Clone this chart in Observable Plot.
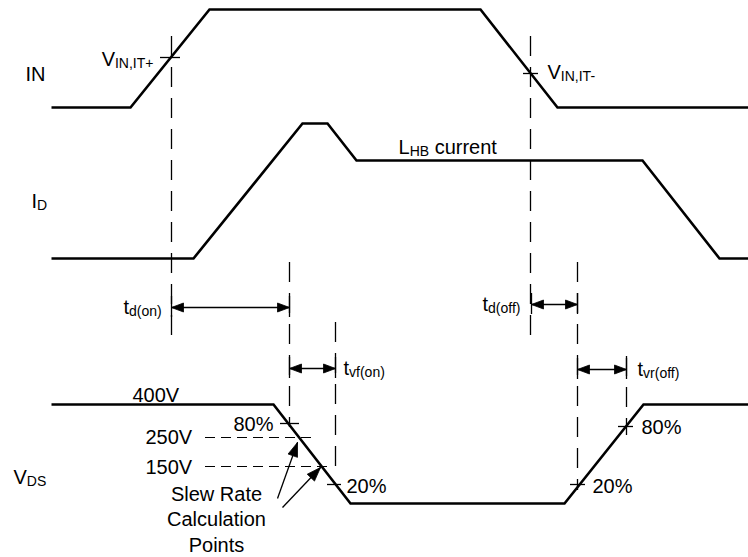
<!DOCTYPE html>
<html>
<head>
<meta charset="utf-8">
<script src="https://cdn.jsdelivr.net/npm/d3@7"></script>
<script src="https://cdn.jsdelivr.net/npm/@observablehq/plot@0.6"></script>
<style>
  html, body { margin: 0; padding: 0; background: #fff; }
  #chart svg { display: block; }
</style>
</head>
<body>
<div id="chart"></div>
<script>
// ---- Waveforms (time → level, in diagram units) ----
const inTime   = [51, 130, 209, 480, 557, 748];
const inLevel  = [107, 107, 9, 9, 107, 107];

const idTime   = [51, 193, 302, 327, 356, 642, 719, 748];
const idLevel  = [258, 258, 123, 123, 160, 160, 258, 258];

const vdsTime  = [51, 273, 350, 564, 643, 748];
const vdsLevel = [404, 404, 503, 503, 404, 404];

// ---- Dashed timing markers (vertical) ----
const markerTime = [171, 530, 289, 577, 335, 626];
const markerFrom = [36, 36, 262, 262, 322, 356];
const markerTo   = [342, 342, 427, 490, 470, 435];

// ---- Threshold crossing ticks ----
const tickLevel = [57, 73, 423, 484, 484, 426];
const tickFrom  = [160, 523, 280, 327, 570, 618];
const tickTo    = [180, 538, 299, 341, 585, 633];

// ---- Voltage reference dashes (250V, 150V) ----
const refLevel = [437, 466];
const refFrom  = [205, 205];
const refTo    = [311, 327];

// ---- Interval arrows (two-headed) ----
const intervalName  = ["td(on)", "tvf(on)", "td(off)", "tvr(off)"];
const intervalStart = [171, 289, 531, 577];
const intervalEnd   = [289, 335, 577, 626];
const intervalLevel = [307, 368, 304, 369];

// ---- Slew-rate pointer arrows ----
const pointerFromT = [277, 282];
const pointerFromV = [498, 507];
const pointerToT   = [297, 320];
const pointerToV   = [442, 467];

// ---- Labels ----
const labelText = ["IN", "I_{D}", "V_{DS}", "V_{IN,IT+}", "V_{IN,IT-}", "L_{HB} current",
  "t_{d(on)}", "t_{vf(on)}", "t_{d(off)}", "t_{vr(off)}", "400V", "80%", "250V", "150V",
  "20%", "20%", "80%", "Slew Rate", "Calculation", "Points"];
const labelT = [25, 31, 13, 153, 547, 398, 123, 343, 482, 637, 132, 273, 145, 145, 346, 592, 641, 216, 216, 216];
const labelV = [80, 207, 483, 65, 78, 153, 313, 374, 310, 375, 401, 430, 443, 473, 492, 492, 433, 500, 525, 551];
const labelAnchor = ["start", "start", "start", "end", "start", "start", "start", "start", "start", "start",
  "start", "end", "start", "start", "start", "start", "start", "middle", "middle", "middle"];

// ---- Build tables ----
const wave = (ts, vs) => ts.map((t, i) => ({t, v: vs[i]}));
const markers = markerTime.map((t, i) => ({t, from: markerFrom[i], to: markerTo[i]}));
const ticks = tickLevel.map((v, i) => ({v, from: tickFrom[i], to: tickTo[i]}));
const refs = refLevel.map((v, i) => ({v, from: refFrom[i], to: refTo[i]}));
const intervals = intervalName.map((n, i) => ({n, t1: intervalStart[i], t2: intervalEnd[i], v: intervalLevel[i]}));
const pointers = pointerFromT.map((t, i) => ({t1: t, v1: pointerFromV[i], t2: pointerToT[i], v2: pointerToV[i]}));
const labels = labelText.map((text, i) => ({text, t: labelT[i], v: labelV[i], anchor: labelAnchor[i]}));

// end bars at interval arrow ends
const endBars = intervals.flatMap(d => [{t: d.t1, v1: d.v - 11, v2: d.v + 10}, {t: d.t2, v1: d.v - 11, v2: d.v + 10}]);

// arrowhead triangles (computed from the arrows)
function head(id, tx, ty, fx, fy, len, half) {
  const dx = tx - fx, dy = ty - fy, L = Math.hypot(dx, dy);
  const ux = dx / L, uy = dy / L, bx = tx - ux * len, by = ty - uy * len;
  return [
    {id, t: tx, v: ty},
    {id, t: bx - uy * half, v: by + ux * half},
    {id, t: bx + uy * half, v: by - ux * half},
    {id, t: tx, v: ty}
  ];
}
const heads = [
  ...intervals.flatMap((d, i) => [
    ...head("a" + i, d.t1, d.v, d.t2, d.v, 12, 4.5),
    ...head("b" + i, d.t2, d.v, d.t1, d.v, 12, 4.5)
  ]),
  ...pointers.flatMap((d, i) => head("p" + i, d.t2, d.v2, d.t1, d.v1, 14, 5))
];

const FONT = "'Liberation Sans', Arial, Helvetica, sans-serif";
const textOpts = a => ({x: "t", y: "v", text: "text", textAnchor: a, lineAnchor: "bottom",
  fontSize: 20, fontFamily: FONT, fill: "black"});

const chart = Plot.plot({
  width: 748,
  height: 557,
  margin: 0,
  x: {domain: [0, 748], axis: null},
  y: {domain: [0, 557], range: [0, 557], axis: null},
  style: {background: "white", color: "black"},
  marks: [
    Plot.ruleX(markers, {x: "t", y1: "from", y2: "to", stroke: "black", strokeWidth: 1.3, strokeDasharray: "20,11"}),
    Plot.ruleX(endBars, {x: "t", y1: "v1", y2: "v2", stroke: "black", strokeWidth: 1.3}),
    Plot.ruleY(refs, {y: "v", x1: "from", x2: "to", stroke: "black", strokeWidth: 1.2, strokeDasharray: "10,6"}),
    Plot.ruleY(ticks, {y: "v", x1: "from", x2: "to", stroke: "black", strokeWidth: 1.3}),
    Plot.line(wave(inTime, inLevel), {x: "t", y: "v", stroke: "black", strokeWidth: 2.6, strokeLinejoin: "miter", strokeMiterlimit: 10, strokeLinecap: "butt"}),
    Plot.line(wave(idTime, idLevel), {x: "t", y: "v", stroke: "black", strokeWidth: 2.6, strokeLinejoin: "miter", strokeMiterlimit: 10, strokeLinecap: "butt"}),
    Plot.line(wave(vdsTime, vdsLevel), {x: "t", y: "v", stroke: "black", strokeWidth: 2.6, strokeLinejoin: "miter", strokeMiterlimit: 10, strokeLinecap: "butt"}),
    Plot.link(intervals, {x1: "t1", y1: "v", x2: "t2", y2: "v", stroke: "black", strokeWidth: 1.5}),
    Plot.link(pointers, {x1: "t1", y1: "v1", x2: "t2", y2: "v2", stroke: "black", strokeWidth: 1.3}),
    Plot.line(heads, {x: "t", y: "v", z: "id", fill: "black", stroke: "black", strokeWidth: 0.8, strokeLinejoin: "miter"}),
    Plot.text(labels.filter(d => d.anchor === "start"), textOpts("start")),
    Plot.text(labels.filter(d => d.anchor === "end"), textOpts("end")),
    Plot.text(labels.filter(d => d.anchor === "middle"), textOpts("middle"))
  ]
});

// turn "X_{sub} rest" into real subscripts
const NS = "http://www.w3.org/2000/svg";
chart.querySelectorAll("text").forEach(el => {
  const s = el.textContent;
  const m = s.match(/^([^_]*)_\{([^}]*)\}(.*)$/);
  if (!m) return;
  el.textContent = "";
  const a = document.createElementNS(NS, "tspan"); a.textContent = m[1]; el.appendChild(a);
  const b = document.createElementNS(NS, "tspan"); b.textContent = m[2];
  b.setAttribute("font-size", "14"); b.setAttribute("dy", "2"); el.appendChild(b);
  if (m[3]) {
    const c = document.createElementNS(NS, "tspan"); c.textContent = m[3];
    c.setAttribute("dy", "-2"); el.appendChild(c);
  }
});

document.getElementById("chart").appendChild(chart);
</script>
</body>
</html>
